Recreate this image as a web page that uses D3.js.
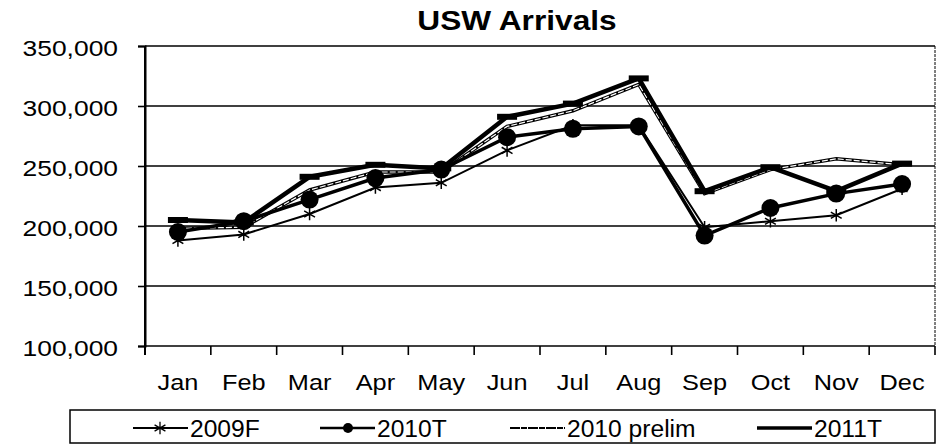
<!DOCTYPE html>
<html>
<head>
<meta charset="utf-8">
<script src="https://cdn.jsdelivr.net/npm/d3@7"></script>
<style>
  body { margin: 0; background: #fff; }
  text { font-family: "Liberation Sans", Arial, sans-serif; fill: #000; }
</style>
</head>
<body>
<div id="chart"></div>
<script>
// values (thousands of arrivals)
const months = ["Jan", "Feb", "Mar", "Apr", "May", "Jun", "Jul", "Aug", "Sep", "Oct", "Nov", "Dec"];
const yTicks = [100000, 150000, 200000, 250000, 300000, 350000];
const seriesNames = ["2009F", "2010T", "2010 prelim", "2011T"];

const v2009F = [188000, 193000, 210000, 232000, 236000, 263000, 284000, 284000, 199000, 204000, 209000, 231000];
const v2010T = [195000, 204000, 222000, 240000, 247000, 274000, 281000, 283000, 192000, 215000, 227000, 235000];
const v2010prelim = [198000, 199000, 230000, 245000, 245000, 283000, 296000, 318000, 227000, 247000, 256000, 251000];
const v2011T = [205000, 203000, 241000, 251000, 248000, 291000, 302000, 323000, 229000, 249000, 229000, 252000];

const width = 939, height = 446;
const plotLeft = 145, plotRight = 935, plotTop = 46, plotBottom = 346;

const svg = d3.select("#chart").append("svg")
  .attr("width", width)
  .attr("height", height);

const x = d3.scaleBand().domain(months).range([plotLeft, plotRight]);
const y = d3.scaleLinear().domain([100000, 350000]).range([plotBottom, plotTop]);
const cx = d => x(d) + x.bandwidth() / 2;

// stretch text a bit, the scan is wider than the fonts we have
function stretch(sel, k) {
  sel.each(function() {
    const len = this.getComputedTextLength();
    d3.select(this).attr("textLength", len * k).attr("lengthAdjust", "spacingAndGlyphs");
  });
}

// title
svg.append("text")
  .attr("x", 517).attr("y", 30)
  .attr("text-anchor", "middle")
  .attr("font-size", 28).attr("font-weight", "bold")
  .text("USW Arrivals")
  .call(stretch, 1.13);

// grid
svg.append("g")
  .selectAll("line")
  .data(yTicks)
  .join("line")
  .attr("x1", plotLeft).attr("x2", plotRight)
  .attr("y1", d => y(d)).attr("y2", d => y(d))
  .attr("stroke", "#000").attr("stroke-width", 1.6);

svg.append("line")
  .attr("x1", plotRight).attr("x2", plotRight)
  .attr("y1", plotTop).attr("y2", plotBottom)
  .attr("stroke", "#000").attr("stroke-width", 1).attr("stroke-dasharray", "3,1");

// y axis
const yAxis = svg.append("g")
  .attr("transform", `translate(${plotLeft},0)`)
  .call(d3.axisLeft(y).tickValues(yTicks).tickSize(7).tickPadding(20).tickFormat(d3.format(",")));
yAxis.select(".domain").attr("stroke-width", 2);
yAxis.selectAll(".tick line").attr("stroke-width", 1.6);
yAxis.selectAll("text")
  .attr("font-size", 22)
  .attr("font-family", null)
  .attr("dy", "0.45em")
  .call(stretch, 1.2);

// x axis, labels centred, tick marks on the band edges
const xAxis = svg.append("g")
  .attr("transform", `translate(0,${plotBottom})`)
  .call(d3.axisBottom(x).tickSize(0).tickPadding(28));
xAxis.select(".domain").remove();
xAxis.selectAll("text")
  .attr("font-size", 22)
  .attr("font-family", null)
  .call(stretch, 1.15);

svg.append("g")
  .selectAll("line")
  .data(months.map(d => x(d)).concat([plotRight]))
  .join("line")
  .attr("x1", d => d).attr("x2", d => d)
  .attr("y1", plotBottom).attr("y2", plotBottom + 9)
  .attr("stroke", "#000").attr("stroke-width", 1.6);

svg.append("line")
  .attr("x1", plotLeft).attr("x2", plotLeft)
  .attr("y1", plotTop).attr("y2", plotBottom + 9)
  .attr("stroke", "#000").attr("stroke-width", 2);

const line = d3.line().x((d, i) => cx(months[i])).y(d => y(d));
const star = d3.symbol().type(d3.symbolAsterisk).size(110);

// 2010 prelim: hollow double line
svg.append("path").datum(v2010prelim)
  .attr("d", line).attr("fill", "none")
  .attr("stroke", "#000").attr("stroke-width", 3.5);
svg.append("path").datum(v2010prelim)
  .attr("d", line).attr("fill", "none")
  .attr("stroke", "#fff").attr("stroke-width", 1.2).attr("stroke-dasharray", "6,2");

// 2009F: thin line with asterisks
svg.append("path").datum(v2009F)
  .attr("d", line).attr("fill", "none")
  .attr("stroke", "#000").attr("stroke-width", 2);
svg.append("g").selectAll("path")
  .data(v2009F)
  .join("path")
  .attr("transform", (d, i) => `translate(${cx(months[i])},${y(d)})`)
  .attr("d", star)
  .attr("fill", "none").attr("stroke", "#000").attr("stroke-width", 1.5);

// 2010T: line with big dots
svg.append("path").datum(v2010T)
  .attr("d", line).attr("fill", "none")
  .attr("stroke", "#000").attr("stroke-width", 3.5);
svg.append("g").selectAll("circle")
  .data(v2010T)
  .join("circle")
  .attr("cx", (d, i) => cx(months[i]))
  .attr("cy", d => y(d))
  .attr("r", 9)
  .attr("fill", "#000");

// 2011T: heavy line with dash markers
svg.append("path").datum(v2011T)
  .attr("d", line).attr("fill", "none")
  .attr("stroke", "#000").attr("stroke-width", 4.5)
  .attr("stroke-linejoin", "round");
svg.append("g").selectAll("rect")
  .data(v2011T)
  .join("rect")
  .attr("x", (d, i) => cx(months[i]) - 10)
  .attr("y", d => y(d) - 3)
  .attr("width", 20).attr("height", 6)
  .attr("fill", "#000");

// legend
svg.append("rect")
  .attr("x", 70).attr("y", 410)
  .attr("width", 865).attr("height", 33)
  .attr("fill", "none").attr("stroke", "#000").attr("stroke-width", 1.5);

const legendX = [133, 320, 510, 757];
const ly = 428;
const lg = svg.append("g").selectAll("g")
  .data(seriesNames)
  .join("g")
  .attr("transform", (d, i) => `translate(${legendX[i]},${ly})`);

lg.append("line")
  .attr("x1", 0).attr("x2", 55)
  .attr("stroke", "#000")
  .attr("stroke-width", (d, i) => [2, 2.5, 2, 3.5][i]);
lg.filter((d, i) => i === 2).select("line")
  .attr("stroke-dasharray", "10,1,6,1");
lg.filter((d, i) => i === 0).append("path")
  .attr("transform", "translate(27,0)")
  .attr("d", star)
  .attr("fill", "none").attr("stroke", "#000").attr("stroke-width", 1.3);
lg.filter((d, i) => i === 1).append("circle")
  .attr("cx", 28).attr("r", 5).attr("fill", "#000");

lg.append("text")
  .attr("x", 57).attr("y", 9)
  .attr("font-size", 23)
  .text(d => d)
  .call(stretch, 1.07);
</script>
</body>
</html>
